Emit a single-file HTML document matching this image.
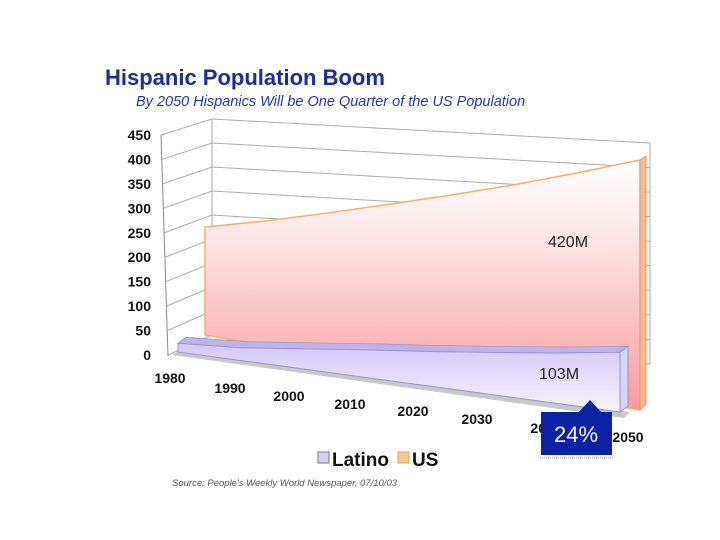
<!DOCTYPE html>
<html><head><meta charset="utf-8"><style>
body{margin:0;background:#fff;width:720px;height:540px;overflow:hidden;font-family:"Liberation Sans",sans-serif}
svg{display:block}
</style></head><body>
<svg id="c" width="720" height="540">
<defs>
<linearGradient id="usG" x1="0" y1="0" x2="0" y2="1"><stop offset="0" stop-color="#ffffff"/><stop offset="0.35" stop-color="#fde2e2"/><stop offset="1" stop-color="#f89a9a"/></linearGradient>
<linearGradient id="laG" x1="0" y1="0" x2="0" y2="1"><stop offset="0" stop-color="#d4c8f6"/><stop offset="1" stop-color="#f7f4ff"/></linearGradient>
</defs>
<text x="105" y="85" font-size="22" font-weight="bold" fill="#1f2a9c">Hispanic Population Boom</text>
<text x="136" y="106" font-size="14.5" font-style="italic" fill="#2535a8">By 2050 Hispanics Will be One Quarter of the US Population</text>
<g id="grid"></g><g id="marks"></g><g id="axes"></g>
<text x="548" y="247" font-size="16" fill="#222">420M</text>
<text x="539" y="379" font-size="16" fill="#222">103M</text>
<g>
<rect x="541" y="412" width="71" height="43" fill="#0b22a4"/>
<polygon points="578,413 590,400 602,413" fill="#0b22a4"/>
<line x1="540" y1="458" x2="613" y2="458" stroke="#999" stroke-dasharray="1,1"/>
<text x="576" y="442" font-size="22" fill="#fff" text-anchor="middle">24%</text>
</g>
<g>
<rect x="318" y="452" width="11" height="11" fill="#d8d0f2" stroke="#777"/>
<text x="332" y="466" font-size="19" font-weight="bold" fill="#111">Latino</text>
<rect x="398" y="452" width="11" height="11" fill="#f8c88a" stroke="#e0a060"/>
<text x="412" y="466" font-size="19" font-weight="bold" fill="#111">US</text>
</g>
<text x="172" y="486" font-size="9.5" font-style="italic" fill="#555">Source: People's Weekly World Newspaper, 07/10/03</text>
</svg>
<script>
const categories=["1980","1990","2000","2010","2020","2030","2040","2050"];
const usValues=[227,254,282,310,337,364,392,420];
const latinoValues=[15,22,35,48,60,73,87,103];
const yTicks=[0,50,100,150,200,250,300,350,400,450];
const NS="http://www.w3.org/2000/svg";
function mk(tag,attrs,parent){const e=document.createElementNS(NS,tag);for(const k in attrs)e.setAttribute(k,attrs[k]);parent.appendChild(e);return e;}
const nCat=categories.length;
function lerp(a,b,t){return a+(b-a)*t;}
function usX(i){return lerp(205,640,i/(nCat-1));}
function usBase(i){return lerp(335,410,i/(nCat-1));}
function usK(i){return lerp(0.475,0.595,i/(nCat-1));}
function usY(i,v){return usBase(i)-v*usK(i);}
function laX(i){return lerp(178,620,i/(nCat-1));}
function laBase(i){return lerp(352,412,i/(nCat-1));}
function laY(i,v){return laBase(i)-v*0.58;}
function axisY(v){return 355-v*(220/450);}
const gridG=document.getElementById('grid'),marksG=document.getElementById('marks'),axesG=document.getElementById('axes');
yTicks.forEach(t=>{
 const yl=axisY(t), yb=335-t*0.48, yr=lerp(364,143,t/450);
 const g=mk('polyline',{points:`${168-t*0.015},${yl} 212,${yb} 650,${yr}`,fill:'none',stroke:'#aaa','stroke-width':1},gridG);
 
 
 const lb=mk('text',{x:151,y:yl+5,'font-size':14,'font-weight':'bold','text-anchor':'end',fill:'#111'},axesG);
 lb.textContent=t;
 
 
});
mk('line',{x1:212,y1:119,x2:212,y2:335,stroke:'#aaa'},gridG);
mk('line',{x1:650,y1:143,x2:650,y2:364,stroke:'#aaa'},gridG);
mk('line',{x1:161,y1:135,x2:168,y2:356,stroke:'#888'},axesG);
let usPts=[];
for(let i=0;i<nCat;i++)usPts.push(usX(i)+','+usY(i,usValues[i]));
for(let i=nCat-1;i>=0;i--)usPts.push(usX(i)+','+usBase(i));
const us=mk('polygon',{points:usPts.join(' '),fill:'url(#usG)',stroke:'#f0b070','stroke-width':1.5},marksG);


const L=nCat-1;
const usSide=mk('polygon',{points:`${usX(L)},${usY(L,usValues[L])} ${usX(L)+6},${usY(L,usValues[L])-4} ${usX(L)+6},${usBase(L)-6} ${usX(L)},${usBase(L)}`,fill:'#f5b890',stroke:'#e89a60'},marksG);


const fl=mk('polygon',{points:`172,355 ${laX(L)+4},${laBase(L)+6} ${laX(L)+10},${laBase(L)} 180,350`,fill:'#c8c8c8'},marksG);


let topPts=[];
for(let i=0;i<nCat;i++)topPts.push(laX(i)+','+laY(i,latinoValues[i]));
for(let i=nCat-1;i>=0;i--)topPts.push((laX(i)+8)+','+(laY(i,latinoValues[i])-6));
const lt=mk('polygon',{points:topPts.join(' '),fill:'#bdb5ea',stroke:'#9a92cc','stroke-width':0.8},marksG);


let lp=[];
for(let i=0;i<nCat;i++)lp.push(laX(i)+','+laY(i,latinoValues[i]));
for(let i=nCat-1;i>=0;i--)lp.push(laX(i)+','+laBase(i));
const la=mk('polygon',{points:lp.join(' '),fill:'url(#laG)',stroke:'#9a92cc','stroke-width':1},marksG);


const ls=mk('polygon',{points:`${laX(L)},${laY(L,latinoValues[L])} ${laX(L)+8},${laY(L,latinoValues[L])-6} ${laX(L)+8},${laBase(L)-6} ${laX(L)},${laBase(L)}`,fill:'#d8d2f4',stroke:'#9a92cc'},marksG);


const lx=[170,230,289,350,413,477,546,628],ly=[383,393,401,409,416,424,433,442];
categories.forEach((c,i)=>{
 const t=mk('text',{x:lx[i],y:ly[i],'font-size':14,'font-weight':'bold','text-anchor':'middle',fill:'#111'},axesG);
 t.textContent=c;
 
 
});
</script>
</body></html>
